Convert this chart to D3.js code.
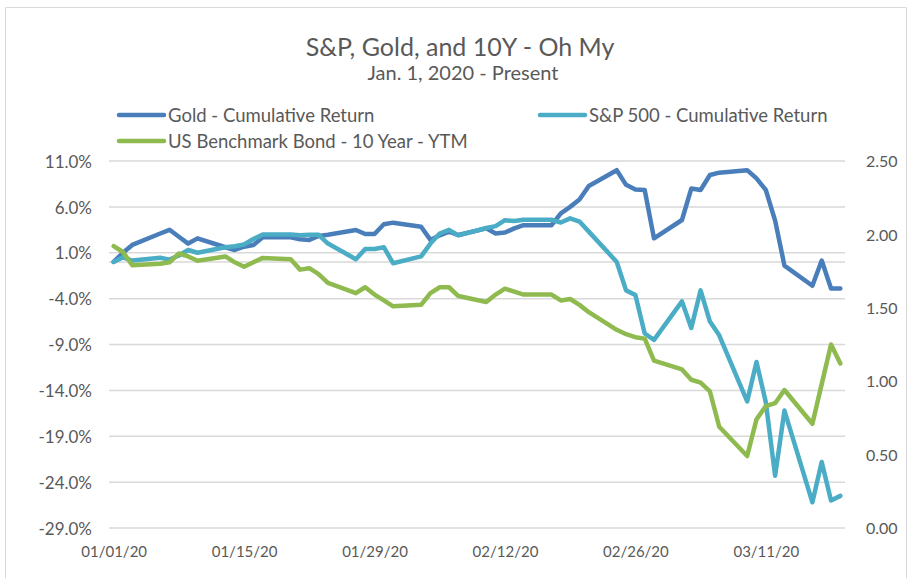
<!DOCTYPE html>
<html>
<head>
<meta charset="utf-8">
<script src="https://cdn.jsdelivr.net/npm/d3@7"></script>
<style>
  html, body { margin: 0; padding: 0; background: #fff; }
  svg { display: block; }
  text { font-family: Lato, "Open Sans", sans-serif; fill: #595959; }
</style>
</head>
<body>
<svg id="chart" width="912" height="578"></svg>
<script>
// ---- data ----
const dates = [
  "2020-01-01","2020-01-02","2020-01-03",
  "2020-01-06","2020-01-07","2020-01-08","2020-01-09","2020-01-10",
  "2020-01-13","2020-01-14","2020-01-15","2020-01-16","2020-01-17",
  "2020-01-20","2020-01-21","2020-01-22","2020-01-23","2020-01-24",
  "2020-01-27","2020-01-28","2020-01-29","2020-01-30","2020-01-31",
  "2020-02-03","2020-02-04","2020-02-05","2020-02-06","2020-02-07",
  "2020-02-10","2020-02-11","2020-02-12","2020-02-13","2020-02-14",
  "2020-02-17","2020-02-18","2020-02-19","2020-02-20","2020-02-21",
  "2020-02-24","2020-02-25","2020-02-26","2020-02-27","2020-02-28",
  "2020-03-02","2020-03-03","2020-03-04","2020-03-05","2020-03-06",
  "2020-03-09","2020-03-10","2020-03-11","2020-03-12","2020-03-13",
  "2020-03-16","2020-03-17","2020-03-18","2020-03-19"
];
// Gold - cumulative return, %
const gold = [
  0, 1.0, 1.85,
  3.1, 3.5, 2.75, 2.0, 2.57,
  1.6, 1.3, 1.66, 1.84, 2.68,
  2.68, 2.47, 2.4, 2.83, 2.97,
  3.48, 3.04, 3.04, 4.1, 4.28,
  3.84, 2.4, 2.9, 3.3, 2.93,
  3.66, 3.1, 3.2, 3.66, 4.0,
  4.0, 5.3, 6.0, 6.8, 8.27,
  10.0, 8.4, 7.9, 7.84, 2.57,
  4.57, 8.0, 7.84, 9.47, 9.73,
  10.0, 9.1, 7.84, 4.5, -0.4,
  -2.6, 0.15, -2.9, -2.9
];
// S&P 500 - cumulative return, %
const sp500 = [
  0, 0.5, 0.15,
  0.45, 0.25, 0.7, 1.3, 1.0,
  1.6, 1.7, 1.9, 2.5, 3.0,
  3.0, 2.9, 2.95, 2.95, 2.0,
  0.3, 1.4, 1.4, 1.6, -0.15,
  0.6, 2.0, 3.1, 3.5, 2.9,
  3.7, 3.9, 4.55, 4.45, 4.6,
  4.6, 4.3, 4.75, 4.4, 3.3,
  0.0, -3.1, -3.6, -7.8, -8.5,
  -4.3, -7.2, -3.1, -6.5, -8.0,
  -15.2, -10.9, -15.3, -23.3, -16.2,
  -26.2, -21.8, -26.0, -25.5
];
// US Benchmark Bond - 10 Year - YTM
const bond10y = [
  1.92, 1.88, 1.79,
  1.80, 1.81, 1.87, 1.85, 1.82,
  1.85, 1.81, 1.78, 1.81, 1.84,
  1.83, 1.76, 1.77, 1.73, 1.67,
  1.60, 1.64, 1.59, 1.55, 1.51,
  1.52, 1.60, 1.64, 1.64, 1.58,
  1.54, 1.59, 1.63, 1.61, 1.59,
  1.59, 1.55, 1.56, 1.52, 1.47,
  1.35, 1.32, 1.30, 1.29, 1.14,
  1.08, 1.01, 0.99, 0.93, 0.69,
  0.49, 0.74, 0.83, 0.85, 0.94,
  0.71, 0.98, 1.25, 1.12
];
const seriesNames = ["Gold - Cumulative Return", "S&P 500 - Cumulative Return", "US Benchmark Bond - 10 Year - YTM"];
const leftTicks = [11, 6, 1, -4, -9, -14, -19, -24, -29];
const rightTicks = [0, 0.5, 1.0, 1.5, 2.0, 2.5];
const xTickLabels = ["01/01/20", "01/15/20", "01/29/20", "02/12/20", "02/26/20", "03/11/20"];
const titleText = "S&P, Gold, and 10Y - Oh My";
const subtitleText = "Jan. 1, 2020 - Present";

// ---- layout ----
const W = 912, H = 578;
const plot = { left: 109, right: 845, top: 161, bottom: 528 };
const colors = ["#4a7ebb", "#4bacc6", "#8fba4f"];
const gridColor = "#d9d9d9";

const svg = d3.select("#chart");
const parse = d3.timeParse("%Y-%m-%d");
const parseTick = d3.timeParse("%m/%d/%y");
const fmtTick = d3.timeFormat("%m/%d/%y");
const dayMs = 864e5;

const dateObjs = dates.map(parse);
const x = d3.scaleTime()
  .domain([new Date(+dateObjs[0] - dayMs / 2), new Date(+dateObjs[dateObjs.length - 1] + dayMs / 2)])
  .range([plot.left, plot.right]);
const yL = d3.scaleLinear().domain([-29, 11]).range([plot.bottom, plot.top]);
const yR = d3.scaleLinear().domain([0, 2.5]).range([plot.bottom, plot.top]);

// chart border
svg.append("path")
  .attr("d", `M5.5,${H} V7.5 H906.5 V${H}`)
  .attr("fill", "none").attr("stroke", "#d9d9d9").attr("stroke-width", 1);

// gridlines (left axis)
svg.append("g").selectAll("line").data(leftTicks).join("line")
  .attr("x1", plot.left).attr("x2", plot.right)
  .attr("y1", d => yL(d)).attr("y2", d => yL(d))
  .attr("stroke", gridColor).attr("stroke-width", 1.5);
// horizontal category axis line at 0%
svg.append("line")
  .attr("x1", plot.left).attr("x2", plot.right)
  .attr("y1", yL(0)).attr("y2", yL(0))
  .attr("stroke", gridColor).attr("stroke-width", 1.5);

const hyphen = s => s.replace("\u2212", "-");

// left axis labels
const axL = d3.axisLeft(yL).tickValues(leftTicks).tickSize(0).tickPadding(0)
  .tickFormat(d => hyphen(d3.format(".1f")(d)) + "%");
const gL = svg.append("g").attr("transform", `translate(92,0)`).call(axL);
gL.select(".domain").remove();
gL.selectAll("text").attr("font-size", 17).attr("font-family", null).attr("fill", "#595959").attr("dy", "0.36em");

// right axis labels
const axR = d3.axisRight(yR).tickValues(rightTicks).tickSize(0).tickPadding(0)
  .tickFormat(d3.format(".2f"));
const gR = svg.append("g").attr("transform", `translate(866,0)`).call(axR);
gR.select(".domain").remove();
gR.selectAll("text").attr("font-size", 16).attr("font-family", null).attr("fill", "#595959").attr("dy", "0.36em");

// bottom axis labels
const axB = d3.axisBottom(x).tickValues(xTickLabels.map(parseTick)).tickSize(0).tickPadding(0)
  .tickFormat(fmtTick);
const gB = svg.append("g").attr("transform", `translate(0,546)`).call(axB);
gB.select(".domain").remove();
gB.selectAll("text").attr("font-size", 15).attr("font-family", null).attr("fill", "#595959").attr("dy", "0.71em");

// lines
const series = [
  { vals: gold, y: yL },
  { vals: sp500, y: yL },
  { vals: bond10y, y: yR }
];
series.forEach((s, i) => {
  const line = d3.line().x((d, j) => x(dateObjs[j])).y(d => s.y(d));
  svg.append("path")
    .datum(s.vals)
    .attr("d", line)
    .attr("fill", "none")
    .attr("stroke", colors[i])
    .attr("stroke-width", 4.5)
    .attr("stroke-linejoin", "round")
    .attr("stroke-linecap", "round");
});

// title & subtitle
svg.append("text").attr("x", 460).attr("y", 56).attr("text-anchor", "middle")
  .attr("font-size", 25).text(titleText);
svg.append("text").attr("x", 463).attr("y", 80).attr("text-anchor", "middle")
  .attr("font-size", 20).text(subtitleText);

// legend
const legendPos = [
  { mx: 117, y: 115 },
  { mx: 538, y: 115 },
  { mx: 117, y: 141 }
];
const lg = svg.append("g");
legendPos.forEach((p, i) => {
  lg.append("line").attr("x1", p.mx + 2).attr("x2", p.mx + 47)
    .attr("y1", p.y).attr("y2", p.y)
    .attr("stroke", colors[i]).attr("stroke-width", 4.5).attr("stroke-linecap", "round");
  lg.append("text").attr("x", p.mx + 51).attr("y", p.y).attr("dy", "0.36em")
    .attr("font-size", 18.5).text(seriesNames[i]);
});
</script>
</body>
</html>
